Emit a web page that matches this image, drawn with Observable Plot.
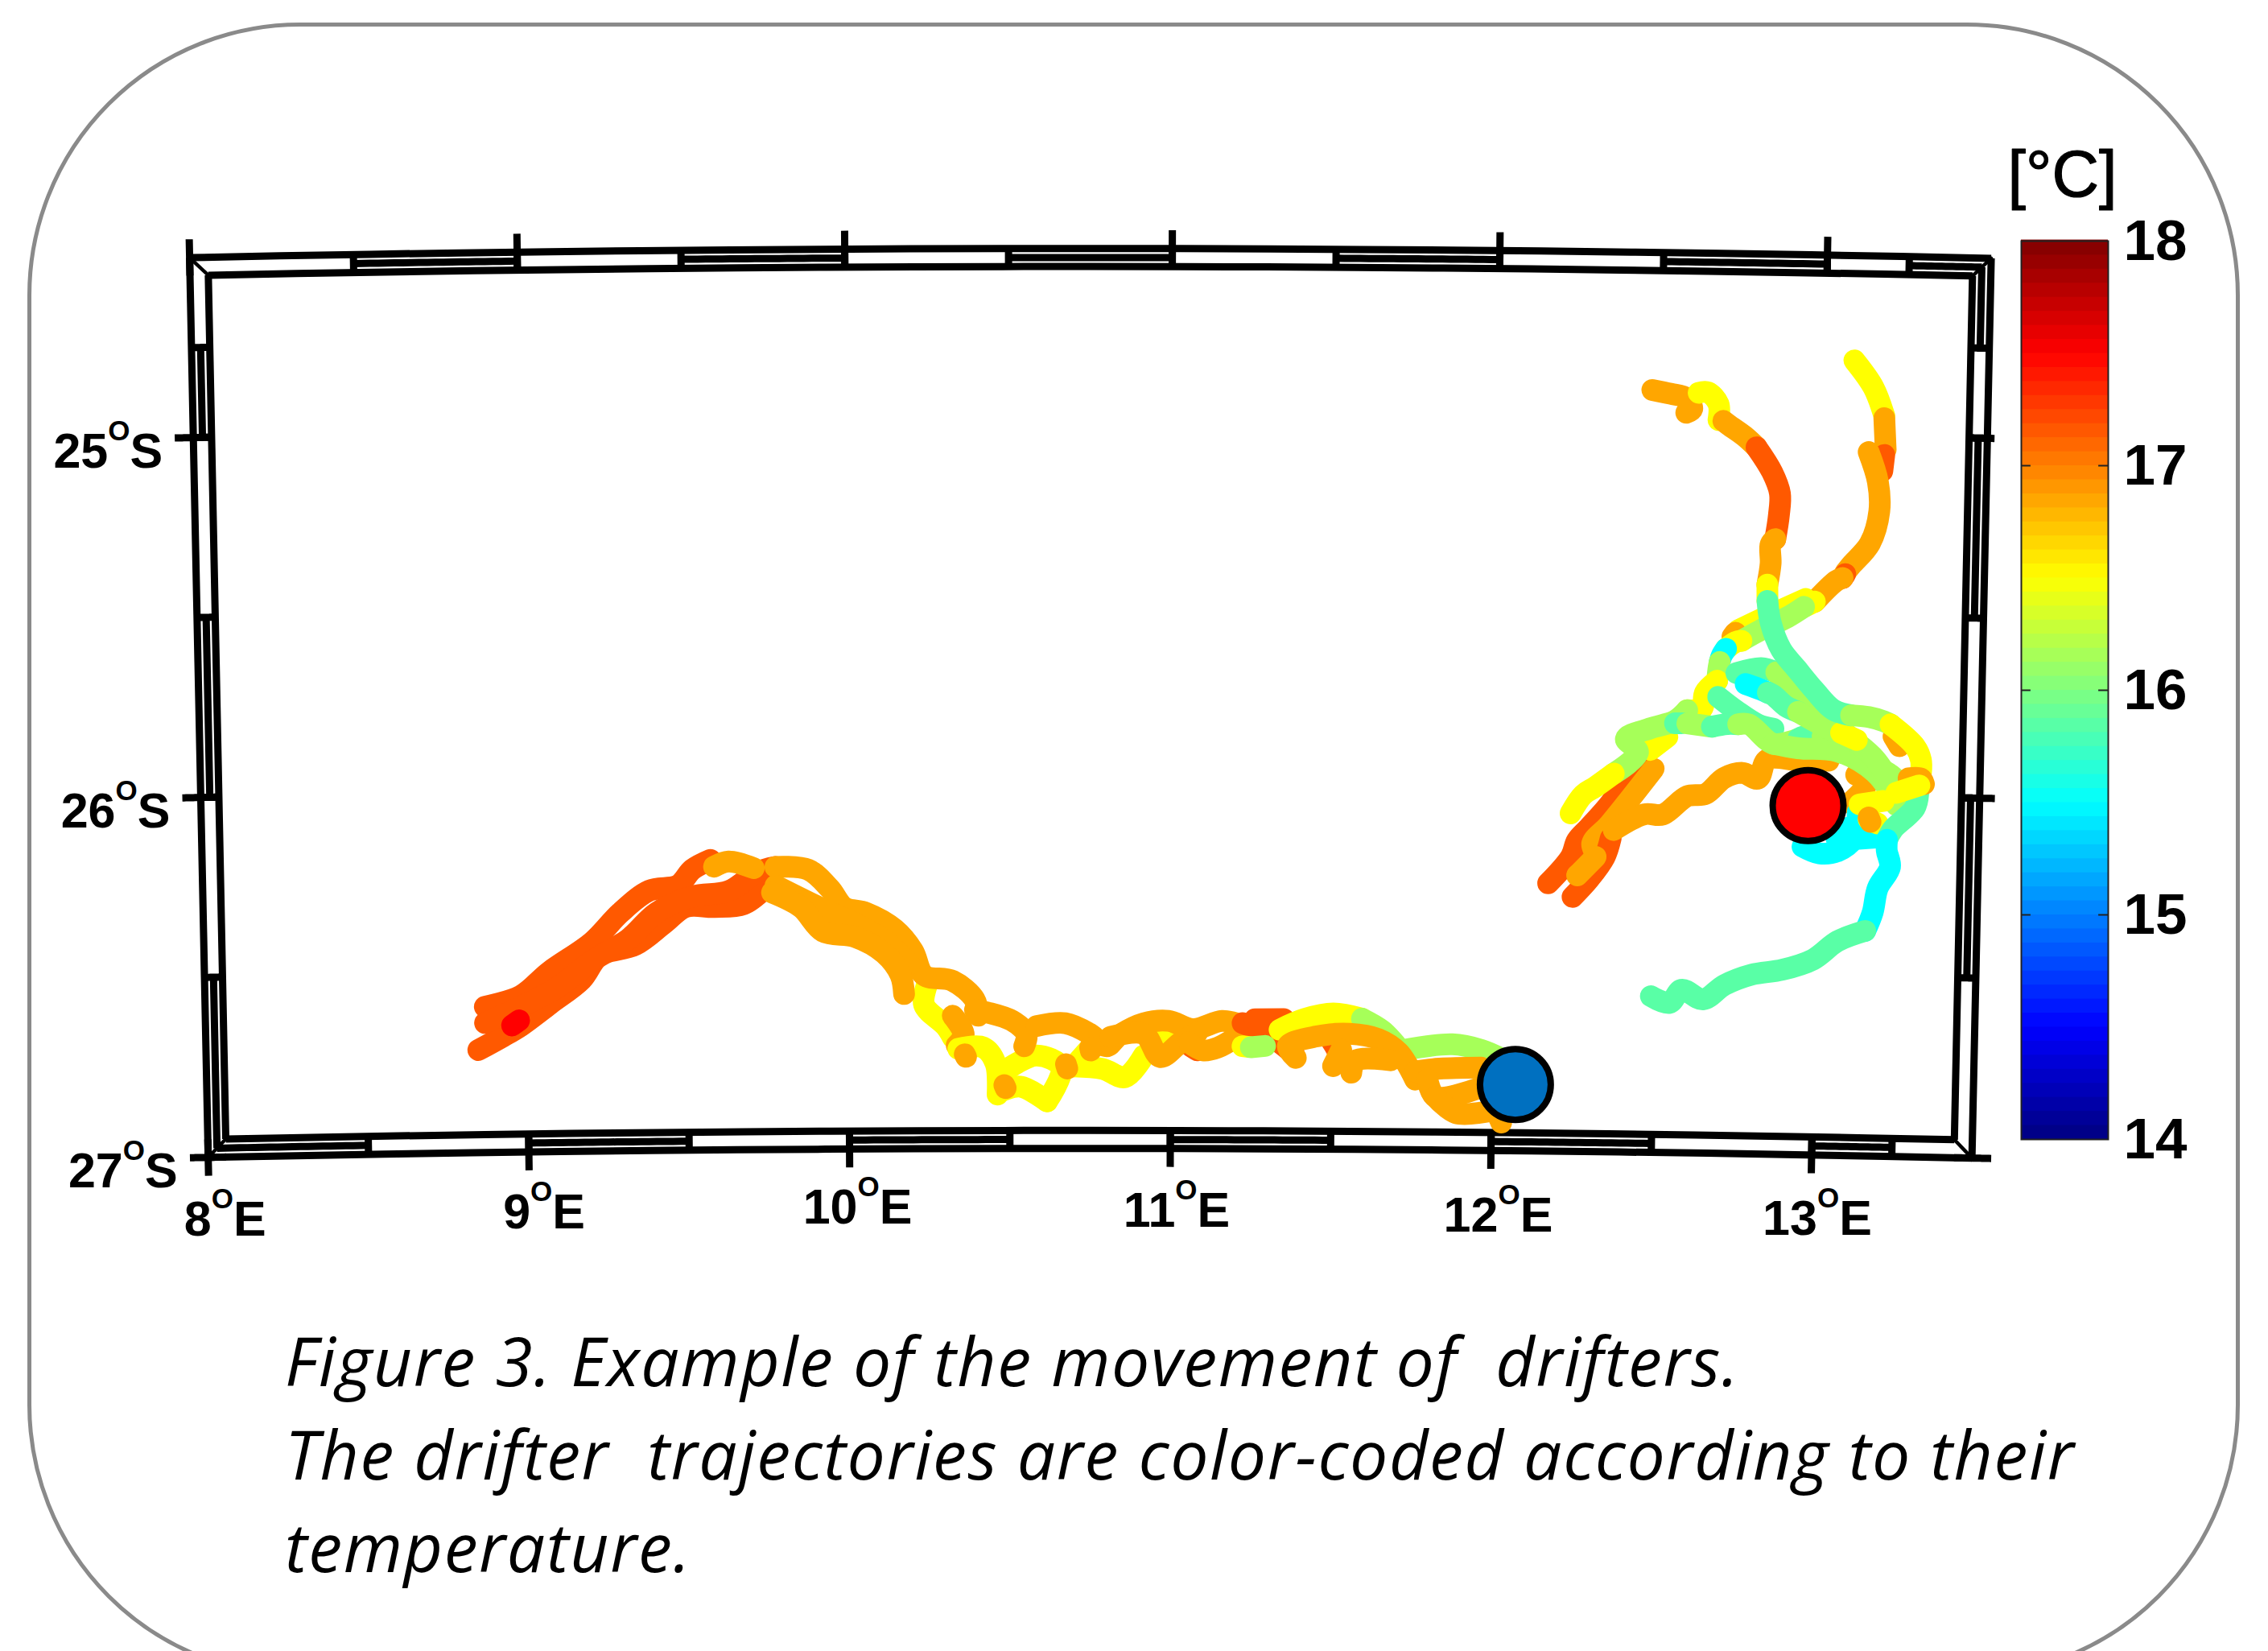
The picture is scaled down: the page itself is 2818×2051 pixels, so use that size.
<!DOCTYPE html>
<html>
<head>
<meta charset="utf-8">
<script src="https://cdn.jsdelivr.net/npm/d3@7"></script>
<script src="https://cdn.jsdelivr.net/npm/@observablehq/plot@0.6"></script>
<style>
html,body{margin:0;padding:0;background:#fff;}
#page{position:relative;width:2818px;height:2051px;overflow:hidden;background:#fff;}
#panel{position:absolute;left:33.5px;top:27.5px;width:2739px;height:2046px;border:5px solid #8a8a8a;border-radius:339px;}
#map{position:absolute;left:0;top:0;}
#bar{position:absolute;left:2490px;top:130px;}
#caption{position:absolute;left:354px;top:1632px;margin:0;font:italic 84px/115.5px "Open Sans",sans-serif;letter-spacing:1.6px;color:#000;white-space:pre;}
#caption div{height:115.5px;}
</style>
</head>
<body>
<div id="page">
  <div id="panel"></div>
  <div id="map"></div>
  <div id="bar"></div>
  <div id="caption"><div>Figure 3. Example of the movement of  drifters.</div><div>The drifter  trajectories are color-coded according to their</div><div>temperature.</div></div>
</div>
<script>
// Temperature classes seen in the picture, degrees C
const T_CYAN = 15.5, T_AQUA = 15.85, T_LIME = 16.15, T_YELLOW = 16.5, T_ORANGE = 16.85, T_ORED = 17.15, T_RED = 17.5;

// Colour bar
const colorStops = [14, 14.5, 15.5, 16.5, 17.5, 18];
const colorValues = ["#000080", "#0000ff", "#00ffff", "#ffff00", "#ff0000", "#800000"];
const colorTicks = [14, 15, 16, 17, 18];

// Map grid
const lonTicks = [8, 9, 10, 11, 12, 13];
const lonLabelDx = [21, 19, 10, 8, 9, 7];
const lonLabelDy = [78, 75, 73, 78, 81, 80];
const latTicks = [-25, -26, -27];
const rightTickReach = [0.022, 0.047, 0.06];
const lonEdges = [8, 13.5];
const latEdges = [-27, -24.5];
const topStripes = [[8.5, 9], [9.5, 10], [10.5, 11], [11.5, 12], [12.5, 13], [13.25, 13.5]];
const bottomStripes = [[8, 8.5], [9, 9.5], [10, 10.5], [11, 11.5], [12, 12.5], [13, 13.25]];
const leftStripes = [[-24.75, -25], [-25.5, -26], [-26.5, -27]];
const rightStripes = [[-24.5, -24.75], [-25, -25.5], [-26, -26.5]];

// Deployment positions
const redStart = [12.97, -26.03];
const blueStart = [12.074, -26.816];

// Drifter tracks, each piece: [temperature, [[lon, lat], ...]]
const trackWestRed = [
  [T_ORED, [[8.869,-26.595],[8.981,-26.566],[9.071,-26.5],[9.205,-26.419],[9.294,-26.338],[9.384,-26.278],[9.473,-26.264],[9.518,-26.22],[9.574,-26.194]]],
  [T_ORED, [[8.847,-26.715],[8.925,-26.678],[8.981,-26.649],[9.071,-26.59],[9.171,-26.523],[9.227,-26.457],[9.339,-26.428],[9.429,-26.369],[9.496,-26.324],[9.585,-26.325],[9.675,-26.318],[9.742,-26.274]]],
  [T_ORED, [[8.869,-26.64],[8.981,-26.596],[9.093,-26.545],[9.205,-26.471],[9.317,-26.412],[9.406,-26.339],[9.518,-26.295],[9.63,-26.281],[9.719,-26.229],[9.775,-26.215]]],
  [T_RED, [[8.953,-26.648],[8.975,-26.634]]]
];
const trackWestOrange = [
  [T_YELLOW, [[10.245,-26.54],[10.234,-26.6],[10.301,-26.66],[10.323,-26.691]]],
  [T_ORANGE, [[9.585,-26.213],[9.63,-26.199],[9.708,-26.218]]],
  [T_ORANGE, [[9.775,-26.215],[9.876,-26.223],[9.943,-26.276],[9.988,-26.329],[10.055,-26.344],[10.144,-26.39],[10.2,-26.45],[10.234,-26.518],[10.323,-26.534],[10.391,-26.586],[10.402,-26.631]]],
  [T_ORANGE, [[9.775,-26.267],[9.91,-26.328],[10.021,-26.374],[10.111,-26.42],[10.189,-26.488]]],
  [T_ORANGE, [[9.764,-26.286],[9.854,-26.328],[9.921,-26.395],[10.021,-26.411],[10.111,-26.457],[10.161,-26.517],[10.172,-26.57]]],
  [T_ORANGE, [[10.323,-26.631],[10.357,-26.683],[10.335,-26.713]]]
];
const trackWestChain = [
  [T_YELLOW, [[10.34,-26.723],[10.417,-26.719],[10.456,-26.764],[10.462,-26.85]]],
  [T_YELLOW, [[10.468,-26.843],[10.532,-26.828],[10.616,-26.869]]],
  [T_YELLOW, [[10.5,-26.775],[10.584,-26.742],[10.661,-26.775],[10.616,-26.869]]],
  [T_YELLOW, [[10.699,-26.772],[10.789,-26.779],[10.859,-26.802],[10.917,-26.742]]],
  [T_YELLOW, [[10.699,-26.772],[10.744,-26.727]]],
  [T_YELLOW, [[10.955,-26.697],[11.032,-26.66]]],
  [T_ORED, [[11.064,-26.716],[11.083,-26.727]]],
  [T_ORANGE, [[10.392,-26.615],[10.43,-26.622],[10.507,-26.645],[10.552,-26.682],[10.545,-26.716]]],
  [T_ORANGE, [[10.584,-26.66],[10.673,-26.652],[10.75,-26.682],[10.801,-26.716],[10.84,-26.686],[10.917,-26.652],[10.993,-26.645],[11.07,-26.668],[11.16,-26.645],[11.218,-26.655]]],
  [T_ORANGE, [[10.814,-26.69],[10.917,-26.682],[10.968,-26.746],[11.032,-26.705],[11.083,-26.678]]],
  [T_ORANGE, [[11.057,-26.705],[11.102,-26.727],[11.147,-26.719],[11.205,-26.69]]],
  [T_ORANGE, [[10.36,-26.738],[10.364,-26.745]]],
  [T_ORANGE, [[10.483,-26.824],[10.487,-26.832]]],
  [T_ORANGE, [[10.675,-26.766],[10.679,-26.778]]],
  [T_ORANGE, [[10.75,-26.72],[10.752,-26.728]]]
];
const trackMiddle = [
  [T_ORED, [[11.224,-26.651],[11.301,-26.681],[11.384,-26.736]]],
  [T_ORED, [[11.262,-26.64],[11.352,-26.639]]],
  [T_ORED, [[11.39,-26.684],[11.467,-26.668],[11.518,-26.724]]],
  [T_YELLOW, [[11.224,-26.715],[11.244,-26.717]]],
  [T_LIME, [[11.25,-26.718],[11.294,-26.714]]],
  [T_YELLOW, [[11.339,-26.669],[11.416,-26.639],[11.506,-26.623],[11.595,-26.637]]],
  [T_LIME, [[11.595,-26.637],[11.659,-26.67],[11.704,-26.712]]],
  [T_LIME, [[11.73,-26.722],[11.877,-26.706],[11.967,-26.721],[12.031,-26.745]]],
  [T_ORANGE, [[11.39,-26.747],[11.365,-26.714],[11.454,-26.687],[11.557,-26.679],[11.646,-26.693],[11.71,-26.73],[11.762,-26.805]]],
  [T_ORANGE, [[11.506,-26.769],[11.531,-26.724]]],
  [T_ORANGE, [[11.563,-26.787],[11.576,-26.753],[11.685,-26.752]]],
  [T_ORANGE, [[11.762,-26.782],[11.838,-26.774],[11.967,-26.77]]],
  [T_ORANGE, [[11.8,-26.804],[11.826,-26.853],[11.954,-26.829]]],
  [T_ORANGE, [[11.826,-26.853],[11.89,-26.897],[12.005,-26.889]]],
  [T_ORANGE, [[12.024,-26.908],[12.031,-26.922]]]
];
const trackEastRed = [
  [T_ORED, [[12.169,-26.256],[12.239,-26.181],[12.257,-26.136],[12.294,-26.099],[12.359,-26.031],[12.406,-25.964],[12.472,-25.934]]],
  [T_ORANGE, [[12.259,-26.233],[12.315,-26.181],[12.304,-26.144],[12.356,-26.091],[12.491,-25.934]]],
  [T_ORED, [[12.245,-26.293],[12.297,-26.241],[12.343,-26.181],[12.361,-26.129]]],
  [T_ORANGE, [[12.259,-26.233],[12.315,-26.181]]],
  [T_ORANGE, [[12.37,-26.106],[12.464,-26.061],[12.521,-26.061],[12.596,-26.009],[12.653,-26.002],[12.709,-25.957],[12.766,-25.942],[12.814,-25.957],[12.841,-25.904],[12.937,-25.904],[13.031,-25.904]]],
  [T_ORANGE, [[13.117,-25.942],[13.151,-25.964],[13.1,-26.02]]],
  [T_ORANGE, [[13.092,-25.867],[13.164,-25.904]]],
  [T_ORANGE, [[13.23,-25.833],[13.249,-25.86]]],
  [T_YELLOW, [[12.48,-25.882],[12.532,-25.845]]]
];
const trackNorthEast = [
  [T_YELLOW, [[13.088,-24.791],[13.148,-24.865],[13.183,-24.944]]],
  [T_ORANGE, [[13.183,-24.95],[13.189,-25.037]]],
  [T_ORED, [[13.185,-25.052],[13.18,-25.097]]],
  [T_ORANGE, [[13.137,-25.045],[13.167,-25.127],[13.173,-25.209],[13.146,-25.299],[13.091,-25.359],[13.072,-25.381]]],
  [T_ORED, [[13.072,-25.385],[13.064,-25.396]]],
  [T_ORANGE, [[13.064,-25.396],[13.045,-25.404],[12.98,-25.463]]],
  [T_YELLOW, [[12.952,-25.456],[12.812,-25.516],[12.746,-25.546]]],
  [T_ORANGE, [[12.737,-25.553],[12.728,-25.564]]],
  [T_YELLOW, [[12.98,-25.463],[12.947,-25.478]]],
  [T_LIME, [[12.947,-25.478],[12.896,-25.508],[12.812,-25.546],[12.756,-25.575]]],
  [T_YELLOW, [[12.756,-25.575],[12.738,-25.579],[12.709,-25.598]]],
  [T_CYAN, [[12.709,-25.598],[12.696,-25.617],[12.69,-25.635]]],
  [T_LIME, [[12.69,-25.635],[12.687,-25.65],[12.683,-25.687]]],
  [T_YELLOW, [[12.683,-25.687],[12.646,-25.721],[12.637,-25.766],[12.592,-25.77]]],
  [T_LIME, [[12.592,-25.77],[12.555,-25.8],[12.479,-25.822],[12.404,-25.852],[12.442,-25.889],[12.368,-25.949]]],
  [T_AQUA, [[12.555,-25.807],[12.575,-25.807]]],
  [T_YELLOW, [[12.368,-25.949],[12.311,-25.987],[12.274,-26.009],[12.236,-26.061]]]
];
const trackLoops = [
  [T_AQUA, [[12.687,-25.732],[12.744,-25.77],[12.811,-25.807],[12.859,-25.818]]],
  [T_LIME, [[12.593,-25.807],[12.669,-25.815]]],
  [T_AQUA, [[12.669,-25.815],[12.716,-25.807],[12.75,-25.807]]],
  [T_LIME, [[12.75,-25.807],[12.783,-25.807],[12.86,-25.86],[12.936,-25.845]]],
  [T_AQUA, [[12.936,-25.845],[12.955,-25.837],[13.011,-25.837]]],
  [T_LIME, [[13.011,-25.837],[13.04,-25.845],[13.107,-25.882],[13.184,-25.919],[13.241,-25.957],[13.243,-26.024]]],
  [T_LIME, [[12.86,-25.86],[12.936,-25.871],[13.059,-25.878],[13.174,-25.934],[13.233,-26.002]]],
  [T_AQUA, [[12.742,-25.665],[12.818,-25.65],[12.865,-25.661]]],
  [T_LIME, [[12.865,-25.661],[12.933,-25.725],[13.02,-25.785],[13.106,-25.845],[13.174,-25.897],[13.232,-25.972]]],
  [T_CYAN, [[12.771,-25.695],[12.819,-25.71],[12.84,-25.718]]],
  [T_AQUA, [[12.84,-25.718],[12.857,-25.725],[12.896,-25.755],[12.934,-25.77]]],
  [T_LIME, [[12.934,-25.77],[13.011,-25.807],[13.106,-25.845]]],
  [T_YELLOW, [[13.068,-25.826],[13.117,-25.845]]],
  [T_CYAN, [[13.124,-26.046],[13.111,-26.121],[13.064,-26.155],[13.007,-26.162],[12.955,-26.144]]],
  [T_CYAN, [[13.111,-26.121],[13.197,-26.114]]],
  [T_CYAN, [[13.06,-26.12],[13.09,-26.09]]],
  [T_YELLOW, [[13.129,-26.024],[13.204,-26.013]]],
  [T_YELLOW, [[13.158,-26.065],[13.186,-26.076]]],
  [T_ORANGE, [[13.158,-26.06],[13.164,-26.072]]]
];
const trackNorthWest = [
  [T_ORANGE, [[12.471,-24.882],[12.528,-24.892],[12.575,-24.903],[12.594,-24.933],[12.576,-24.944]]],
  [T_YELLOW, [[12.613,-24.888],[12.641,-24.886],[12.674,-24.918],[12.675,-24.963]]],
  [T_ORANGE, [[12.69,-24.965],[12.708,-24.977],[12.756,-25.007],[12.793,-25.037]]],
  [T_ORED, [[12.793,-25.037],[12.842,-25.105],[12.867,-25.164],[12.865,-25.224],[12.855,-25.291]]],
  [T_ORANGE, [[12.855,-25.291],[12.841,-25.306],[12.842,-25.359],[12.833,-25.418]]],
  [T_YELLOW, [[12.833,-25.418],[12.834,-25.463]]],
  [T_AQUA, [[12.834,-25.463],[12.845,-25.523],[12.879,-25.598],[12.927,-25.65],[12.984,-25.71],[13.042,-25.762],[13.098,-25.777]]],
  [T_LIME, [[13.098,-25.777],[13.153,-25.781],[13.2,-25.792],[13.22,-25.8]]],
  [T_AQUA, [[13.31,-25.99],[13.3,-26.031],[13.234,-26.091],[13.216,-26.121]]],
  [T_YELLOW, [[13.22,-25.8],[13.297,-25.86],[13.316,-25.897],[13.317,-25.934]]],
  [T_ORANGE, [[13.279,-25.949],[13.317,-25.949],[13.327,-25.964]]],
  [T_YELLOW, [[13.242,-25.99],[13.313,-25.968]]],
  [T_CYAN, [[13.216,-26.121],[13.216,-26.151],[13.227,-26.196],[13.19,-26.256],[13.176,-26.323],[13.154,-26.375]]],
  [T_AQUA, [[13.154,-26.375],[13.069,-26.405],[12.994,-26.457],[12.899,-26.487],[12.804,-26.502],[12.72,-26.532],[12.654,-26.573],[12.587,-26.547],[12.55,-26.584],[12.492,-26.566]]]
];

const allPieces = [trackWestRed, trackWestOrange, trackWestChain, trackMiddle, trackEastRed, trackNorthEast, trackLoops, trackNorthWest].flat();
const trackRows = allPieces.flatMap(([temp, points], run) => points.map(([lon, lat]) => ({run, temp, lon, lat})));

// Frame geometry helpers (the grid's double border)
const frameLonInset = 0.056, frameLatInset = 0.05, tickLonReach = 0.057, tickLatReach = 0.051;
let lineId = 0;
const alongLat = (lat, lon1, lon2) => { const id = lineId++; return d3.range(0, 21).map(i => ({id, lat, lon: lon1 + (lon2 - lon1) * i / 20})); };
const alongLon = (lon, lat1, lat2) => { const id = lineId++; return d3.range(0, 21).map(i => ({id, lon, lat: lat1 + (lat2 - lat1) * i / 20})); };
const [w, e] = lonEdges, [s, n] = latEdges;
const dLon = frameLonInset, dLat = frameLatInset;
const frameHeavy = [
  alongLat(s, w, e), alongLat(n, w, e), alongLon(w, s, n), alongLon(e, s, n),
  alongLat(s + dLat, w + dLon, e - dLon), alongLat(n - dLat, w + dLon, e - dLon),
  alongLon(w + dLon, s + dLat, n - dLat), alongLon(e - dLon, s + dLat, n - dLat),
  ...topStripes.map(([a, b]) => alongLat(n - dLat / 2, Math.max(a, w + dLon / 2), Math.min(b, e - dLon / 2))),
  ...bottomStripes.map(([a, b]) => alongLat(s + dLat / 2, Math.max(a, w + dLon / 2), Math.min(b, e - dLon / 2))),
  ...leftStripes.map(([a, b]) => alongLon(w + dLon / 2, Math.min(a, n - dLat / 2), Math.max(b, s + dLat / 2))),
  ...rightStripes.map(([a, b]) => alongLon(e - dLon / 2, Math.min(a, n - dLat / 2), Math.max(b, s + dLat / 2))),
  ...[...topStripes.flat()].filter(v => v > w && v < e).map(v => alongLon(v, n - dLat, n)),
  ...[...bottomStripes.flat()].filter(v => v > w && v < e).map(v => alongLon(v, s, s + dLat)),
  ...[...leftStripes.flat()].filter(v => v > s && v < n).map(v => alongLat(v, w, w + dLon)),
  ...[...rightStripes.flat()].filter(v => v > s && v < n).map(v => alongLat(v, e - dLon, e)),
  ...lonTicks.map(v => alongLon(v, n - dLat, n + tickLatReach)),
  ...lonTicks.map(v => alongLon(v, s - tickLatReach, s + dLat)),
  ...latTicks.map(v => alongLat(v, w - tickLonReach, w + dLon)),
  ...latTicks.map((v, i) => alongLat(v, e - dLon, e + rightTickReach[i]))
].flat();
const frameDiagonals = [
  [[w, n], [w + dLon, n - dLat]], [[e, n], [e - dLon, n - dLat]],
  [[w, s], [w + dLon, s + dLat]], [[e, s], [e - dLon, s + dLat]]
].flatMap((pair, id) => pair.map(([lon, lat]) => ({id, lon, lat})));

const projection = d3.geoConicConformal()
  .parallels([-26, -26]).rotate([-10.7, 0]).center([0, -26])
  .scale(25620).translate([1334, 979]);

const colorScale = {type: "linear", domain: colorStops, range: colorValues};
const labelFont = {fontFamily: "Liberation Sans", fontWeight: "bold", fontSize: 61, fill: "#000"};

const map = Plot.plot({
  width: 2818, height: 2051, margin: 0,
  projection,
  color: colorScale,
  style: {background: "transparent"},
  marks: [
    Plot.line(frameHeavy, {x: "lon", y: "lat", z: "id", curve: "linear", stroke: "#000", strokeWidth: 9, strokeLinecap: "butt"}),
    Plot.line(frameDiagonals, {x: "lon", y: "lat", z: "id", curve: "linear", stroke: "#000", strokeWidth: 4.5}),
    Plot.line(trackRows, {x: "lon", y: "lat", z: "run", stroke: "temp", curve: "catmull-rom", strokeWidth: 27, strokeLinecap: "round", strokeLinejoin: "round"}),
    Plot.dot([redStart], {x: d => d[0], y: d => d[1], r: 44, fill: "#ff0000", stroke: "#000", strokeWidth: 8}),
    Plot.dot([blueStart], {x: d => d[0], y: d => d[1], r: 44, fill: "#0070c0", stroke: "#000", strokeWidth: 8}),
    ...lonTicks.map((v, i) => Plot.text([v], {x: d => d, y: () => s, text: d => `${d}°E`, dx: lonLabelDx[i], dy: lonLabelDy[i], textAnchor: "middle", ...labelFont})),
    Plot.text(latTicks, {x: () => w, y: d => d, text: d => `${-d}°S`, dx: -38, dy: 18, textAnchor: "end", ...labelFont})
  ]
});
document.getElementById("map").append(map);

// Raise the degree mark to the small superscript "O" of the reference
const NS = "http://www.w3.org/2000/svg";
map.querySelectorAll("text").forEach(node => {
  const parts = node.textContent.split("°");
  if (parts.length !== 2) return;
  node.textContent = parts[0];
  const sup = document.createElementNS(NS, "tspan");
  sup.setAttribute("font-size", 35);
  sup.setAttribute("dy", -34);
  sup.textContent = "O";
  const tail = document.createElementNS(NS, "tspan");
  tail.setAttribute("dy", 34);
  tail.textContent = parts[1];
  node.append(sup, tail);
});

const bands = d3.range(64).map(i => ({y1: 14 + i / 16, y2: 14 + (i + 1) / 16 + 0.005, v: 14 + (i + 0.5) / 16}));
const bar = Plot.plot({
  width: 300, height: 1335,
  marginLeft: 21, marginRight: 171, marginTop: 169, marginBottom: 50,
  x: {domain: [0, 1], axis: null},
  y: {domain: [14, 18], axis: null},
  color: colorScale,
  style: {background: "transparent"},
  marks: [
    Plot.rect(bands, {x1: 0, x2: 1, y1: "y1", y2: "y2", fill: "v"}),
    Plot.ruleY([15, 16, 17], {x1: 0, x2: 0.11, stroke: "#222", strokeWidth: 2}),
    Plot.ruleY([15, 16, 17], {x1: 0.89, x2: 1, stroke: "#222", strokeWidth: 2}),
    Plot.frame({stroke: "#222", strokeWidth: 2}),
    Plot.axisY(colorTicks, {anchor: "right", tickSize: 0, tickPadding: 19, dy: 1, label: null, fontFamily: "Liberation Sans", fontWeight: "bold", fontSize: 71, fill: "#000", tickFormat: d => String(d)}),
    Plot.text(["[°C]"], {frameAnchor: "top", dy: -56, dx: -3, lineAnchor: "bottom", fontFamily: "Liberation Sans", fontSize: 81, fill: "#000", stroke: "#000", strokeWidth: 1.2})
  ]
});
document.getElementById("bar").append(bar);
</script>
</body>
</html>
